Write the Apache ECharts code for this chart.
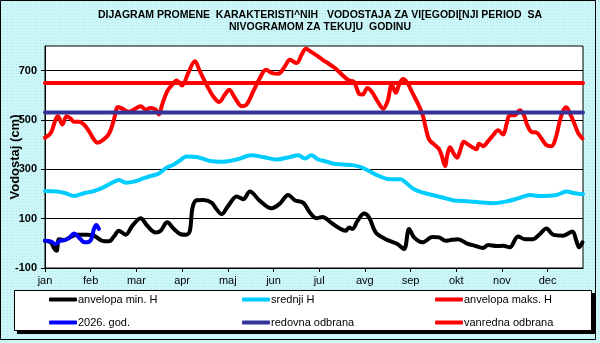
<!DOCTYPE html>
<html>
<head>
<meta charset="utf-8">
<script src="https://cdn.jsdelivr.net/npm/echarts@6/dist/echarts.min.js"></script>
<style>
  html, body { margin: 0; padding: 0; }
  #chart {
    width: 600px; height: 343px;
    background-color: #cbf7f9;
    background-image: radial-gradient(#b7e6ea 0.6px, transparent 0.8px);
    background-size: 3px 3px;
  }
</style>
</head>
<body>
<div id="chart"></div>
<script>
// Month labels and the day on which each month tick sits (one tick every 31 days)
const months = ['jan', 'feb', 'mar', 'apr', 'maj', 'jun', 'jul', 'avg', 'sep', 'okt', 'nov', 'dec'];
const monthTicks = [0, 31, 62, 93, 124, 155, 186, 217, 248, 279, 310, 341];
const levelTicks = [-100, 100, 300, 500, 700];

// anvelopa min. H
const minDays = [0, 3.9, 6.1, 7.9, 9.5, 12.9, 17.4, 21.9, 28.7, 33.2, 38.9, 43.4, 46.8, 50.2, 54.7, 59.2, 64.9, 69.4, 75.1, 78.5, 82.9, 87.5, 92, 96, 98.3, 100.1, 102.9, 107.3, 113, 116.4, 119.8, 124.3, 130, 134.5, 139, 145.8, 153.7, 159.3, 165, 169.5, 175.1, 179.7, 184, 188.3, 193.9, 199.5, 204, 206.3, 208.6, 212, 216.5, 219.9, 224.4, 231.2, 239.1, 243.6, 247, 250.4, 256.1, 262.9, 267.4, 271.9, 274.6, 280.2, 286, 291.6, 297.2, 300.6, 306.3, 310.8, 315.3, 320.9, 325.5, 331.1, 335.6, 340.2, 344.7, 351.5, 357.8, 360.5, 362.3, 364.6];
const minVals = [10, 4, -19, -30, 17, 13, 26, 35, 35, 31, 10, 8, 28, 51, 35, 71, 102, 71, 44, 51, 85, 58, 37, 35, 51, 145, 175, 176, 165, 138, 118, 152, 190, 179, 210, 172, 142, 161, 196, 175, 165, 125, 102, 107, 85, 62, 51, 64, 58, 91, 121, 105, 44, 17, -3, -23, 58, 24, 4, 26, 24, 10, 13, 17, 0, -10, -19, -7, -11, -10, -16, 28, 17, 17, 37, 60, 35, 31, 48, 10, -16, 4];

// srednji H
const meanDays = [0, 8, 14, 19.7, 26.4, 33.2, 40, 45.6, 50.2, 54.7, 60.3, 67.1, 71.7, 77.3, 81.8, 87.5, 91.5, 96, 102.9, 111.9, 120.9, 130, 140.2, 148, 157.1, 166.1, 171.8, 176.3, 180.8, 185.3, 189.4, 195.1, 201.9, 208.6, 214.3, 219.9, 226.7, 233.5, 241.4, 244.8, 250.4, 256.1, 262.9, 269.7, 277.5, 283.6, 292.7, 304, 313.1, 320.9, 328.9, 335.6, 347, 353.7, 359.4, 365];
const meanVals = [212, 210, 203, 192, 203, 212, 228, 246, 257, 246, 250, 264, 273, 283, 304, 320, 336, 352, 350, 334, 331, 340, 357, 350, 340, 350, 357, 344, 357, 340, 334, 324, 320, 317, 309, 293, 273, 260, 260, 246, 219, 206, 196, 186, 174, 172, 168, 163, 170, 182, 196, 192, 196, 210, 203, 199];

// anvelopa maks. H
const maxDays = [0, 4, 7.2, 8.8, 11.7, 14.7, 17.4, 19.7, 23, 26.4, 29.8, 33.2, 35.5, 38.9, 43.4, 46.8, 49.5, 52.4, 57, 60.3, 64.9, 68.3, 71.7, 75.1, 77.3, 79.5, 82.9, 86.3, 89.3, 93, 97, 101.7, 105.1, 109.6, 114.1, 118.2, 122, 125, 128.8, 133.4, 136.8, 141.3, 145.8, 149.9, 153.7, 158.2, 162.7, 166.1, 170.7, 174.1, 177, 180.8, 185.3, 188.3, 192.8, 197.3, 201.9, 206.3, 209.7, 213.1, 215.4, 218.8, 222.2, 225.6, 229.4, 232.4, 235.3, 238, 240.2, 243, 245.9, 249.3, 253.8, 256.5, 258.3, 260.6, 264, 267.4, 269.2, 271.4, 273, 274.8, 277, 279.6, 281.9, 284.1, 287, 290.4, 292.7, 294.5, 297.2, 300.6, 304, 307.4, 310.8, 313.1, 315.3, 318.7, 322.1, 324.8, 327, 330, 333.8, 336.8, 340.2, 343.6, 346.5, 349.2, 351.9, 353.7, 356.5, 359.4, 361.6, 364.6];
const maxVals = [428, 448, 502, 515, 482, 515, 506, 493, 493, 482, 455, 421, 408, 417, 444, 502, 553, 546, 533, 542, 556, 542, 549, 542, 522, 563, 616, 643, 660, 640, 688, 738, 697, 643, 596, 573, 603, 623, 590, 556, 563, 616, 670, 704, 691, 687, 717, 744, 731, 765, 789, 775, 758, 744, 727, 708, 681, 660, 654, 606, 603, 630, 610, 576, 546, 576, 643, 610, 643, 666, 650, 610, 556, 515, 468, 421, 401, 381, 354, 313, 361, 390, 367, 347, 381, 412, 401, 388, 381, 404, 394, 414, 439, 458, 441, 482, 519, 519, 540, 522, 482, 452, 448, 425, 398, 394, 428, 495, 542, 552, 522, 482, 448, 425];

// 2026. god.
const curDays = [0, 3.9, 7.2, 10.2, 12.9, 16.3, 19.7, 23, 26, 28.7, 31.4, 33.2, 34.8, 36.6];
const curVals = [10, 8, -3, 10, 13, 21, 40, 24, 6, 4, 17, 58, 74, 58];

// Defence levels (cm)
const redovnaOdbrana = 530;
const vanrednaOdbrana = 650;

const names = ['anvelopa min. H', 'srednji H', 'anvelopa maks. H', '2026. god.', 'redovna odbrana', 'vanredna odbrana'];
const colors = ['#000000', '#00ccff', '#ff0000', '#0000ff', '#333399', '#ff0000'];

const pairs = (xs, ys) => xs.map((x, i) => [x, ys[i]]);
const flat = (v) => [[0, v], [365, v]];

const seriesData = [
  pairs(minDays, minVals),
  pairs(meanDays, meanVals),
  pairs(maxDays, maxVals),
  pairs(curDays, curVals),
  flat(redovnaOdbrana),
  flat(vanrednaOdbrana)
];

const font = '"Liberation Sans", Arial, sans-serif';

// Legend laid out as 3 columns x 2 rows inside a framed box
const legendCols = [49, 242, 435];
const legendRows = [294, 317];
const legends = names.map((n, i) => ({
  data: [n],
  left: legendCols[i % 3],
  top: legendRows[Math.floor(i / 3)],
  padding: 0,
  icon: 'roundRect',
  itemWidth: 28,
  itemHeight: 4,
  selectedMode: false,
  textStyle: { fontFamily: font, fontSize: 11, color: '#000', padding: [0, 0, 0, -4] }
}));

const chart = echarts.init(document.getElementById('chart'), null, { renderer: 'canvas' });
chart.setOption({
  animation: false,
  backgroundColor: 'transparent',
  color: colors,
  title: {
    text: 'DIJAGRAM PROMENE  KARAKTERISTI^NIH   VODOSTAJA ZA VI[EGODI[NJI PERIOD  SA\nNIVOGRAMOM ZA TEKU]U  GODINU',
    left: 320,
    top: 9,
    textAlign: 'center',
    padding: 0,
    textStyle: { fontFamily: font, fontSize: 10.5, fontWeight: 'bold', color: '#000', lineHeight: 12, align: 'center' }
  },
  legend: legends,
  graphic: [
    { type: 'rect', shape: { x: 17, y: 293, width: 578, height: 41 }, style: { fill: '#000' }, silent: true, z: -1 },
    { type: 'rect', shape: { x: 14.5, y: 290.5, width: 577, height: 40 }, style: { fill: '#fff', stroke: '#000', lineWidth: 1 }, silent: true, z: -1 },
    { type: 'rect', shape: { x: 0.5, y: 0.5, width: 595, height: 339 }, style: { fill: 'none', stroke: '#000', lineWidth: 1 }, silent: true, z: -2 }
  ],
  grid: {
    left: 45, right: 17, top: 46, bottom: 75,
    show: true, backgroundColor: '#fff', borderColor: '#000', borderWidth: 1,
    outerBoundsMode: 'none'
  },
  xAxis: {
    type: 'value', min: 0, max: 365,
    axisLine: { show: true, onZero: false, lineStyle: { color: '#000', width: 1 } },
    axisTick: { show: true, customValues: monthTicks, length: 4, lineStyle: { color: '#000' } },
    axisLabel: {
      customValues: monthTicks,
      formatter: (v) => months[monthTicks.indexOf(v)] || '',
      fontFamily: font, fontSize: 11, color: '#000', margin: 7
    },
    splitLine: { show: false }
  },
  yAxis: {
    type: 'value', min: -100, max: 800,
    name: 'Vodostaj (cm)', nameLocation: 'middle', nameGap: 23, nameRotate: 90,
    nameMoveOverlap: false,
    nameTextStyle: { fontFamily: font, fontSize: 13, fontWeight: 'bold', color: '#000' },
    axisLine: { show: true, lineStyle: { color: '#000', width: 1 } },
    axisTick: { show: true, customValues: levelTicks, length: 4, lineStyle: { color: '#000' } },
    axisLabel: {
      customValues: levelTicks,
      fontFamily: font, fontSize: 11, fontWeight: 'bold', color: '#000', margin: 8
    },
    splitLine: { show: true, lineStyle: { color: '#000', width: 1 } }
  },
  series: names.map((n, i) => ({
    name: n,
    type: 'line',
    data: seriesData[i],
    smooth: i < 4 ? 0.35 : false,
    showSymbol: false,
    symbol: 'none',
    lineStyle: { width: 4, color: colors[i], cap: 'round', join: 'round' },
    itemStyle: { color: colors[i] },
    z: 2 + i
  }))
});
</script>
</body>
</html>
